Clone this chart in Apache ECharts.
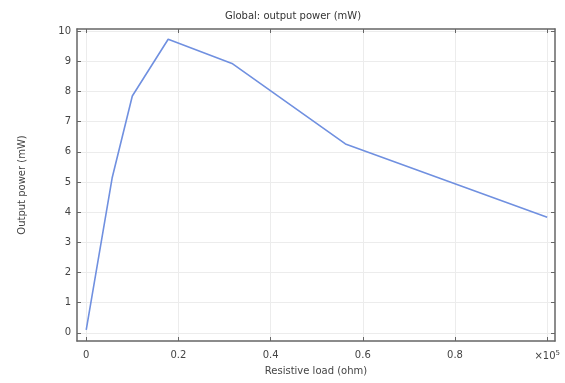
<!DOCTYPE html>
<html>
<head>
<meta charset="utf-8">
<script src="https://cdn.jsdelivr.net/npm/echarts@6/dist/echarts.min.js"></script>
<style>
  html, body { margin: 0; padding: 0; background: #fff; }
  #chart { width: 565px; height: 383px; }
</style>
</head>
<body>
<div id="chart"></div>
<script>
// resistive load in units of 1e5 ohm
const loadValues = [0, 0.0562, 0.1, 0.1778, 0.3162, 0.5623, 1.0];
// output power, mW
const powerValues = [0.1, 5.13, 7.85, 9.73, 8.93, 6.26, 3.83];
const xTicks = [0, 0.2, 0.4, 0.6, 0.8, 1];
const yTicks = [0, 1, 2, 3, 4, 5, 6, 7, 8, 9, 10];

const chart = echarts.init(document.getElementById('chart'));

const frameColor = '#666';
const labelFont = { color: '#444', fontSize: 10, fontFamily: 'DejaVu Sans' };

const option = {
  animation: false,
  title: {
    text: 'Global: output power (mW)',
    left: 288,
    textAlign: 'center',
    top: 6,
    textStyle: { color: '#333', fontSize: 10, fontWeight: 'normal', fontFamily: 'DejaVu Sans' },
  },
  grid: { left: 77, right: 10, top: 29, bottom: 42 },
  xAxis: [
    {
      type: 'value',
      min: -0.02,
      max: 1.017,
      position: 'bottom',
      name: 'Resistive load (ohm)',
      nameLocation: 'middle',
      nameGap: 24,
      nameTextStyle: labelFont,
      axisLine: { show: true, onZero: false, lineStyle: { color: frameColor, width: 1.5 } },
      axisTick: { show: true, inside: true, length: 4, customValues: xTicks, lineStyle: { color: frameColor } },
      axisLabel: {
        ...labelFont,
        margin: 9,
        customValues: xTicks,
        // the last tick shows the axis multiplier instead of "1"
        formatter: (v) => (v === 1 ? '{a|×10}{b|5}' : String(v)),
        rich: {
          a: { ...labelFont },
          b: { ...labelFont, fontSize: 7, verticalAlign: 'top', padding: [0, 0, 6, 0] },
        },
      },
      splitLine: { show: true, lineStyle: { color: '#ececec' } },
    },
    {
      type: 'value',
      min: -0.02,
      max: 1.017,
      position: 'top',
      axisLine: { show: true, onZero: false, lineStyle: { color: frameColor, width: 1.5 } },
      axisTick: { show: true, inside: true, length: 4, customValues: xTicks, lineStyle: { color: frameColor } },
      axisLabel: { show: false },
      splitLine: { show: false },
    },
  ],
  yAxis: [
    {
      type: 'value',
      min: -0.27,
      max: 10.07,
      position: 'left',
      name: 'Output power (mW)',
      nameLocation: 'middle',
      nameGap: 50,
      nameTextStyle: labelFont,
      axisLine: { show: true, onZero: false, lineStyle: { color: frameColor, width: 1.5 } },
      axisTick: { show: true, inside: true, length: 4, customValues: yTicks, lineStyle: { color: frameColor } },
      axisLabel: { ...labelFont, margin: 6, customValues: yTicks },
      splitLine: { show: true, lineStyle: { color: '#ececec' } },
    },
    {
      type: 'value',
      min: -0.27,
      max: 10.07,
      position: 'right',
      axisLine: { show: true, onZero: false, lineStyle: { color: frameColor, width: 1.5 } },
      axisTick: { show: true, inside: true, length: 4, customValues: yTicks, lineStyle: { color: frameColor } },
      axisLabel: { show: false },
      splitLine: { show: false },
    },
  ],
  series: [
    {
      type: 'line',
      data: loadValues.map((x, i) => [x, powerValues[i]]),
      showSymbol: false,
      lineStyle: { color: '#7090e0', width: 1.6 },
    },
  ],
};

chart.setOption(option);
</script>
</body>
</html>
